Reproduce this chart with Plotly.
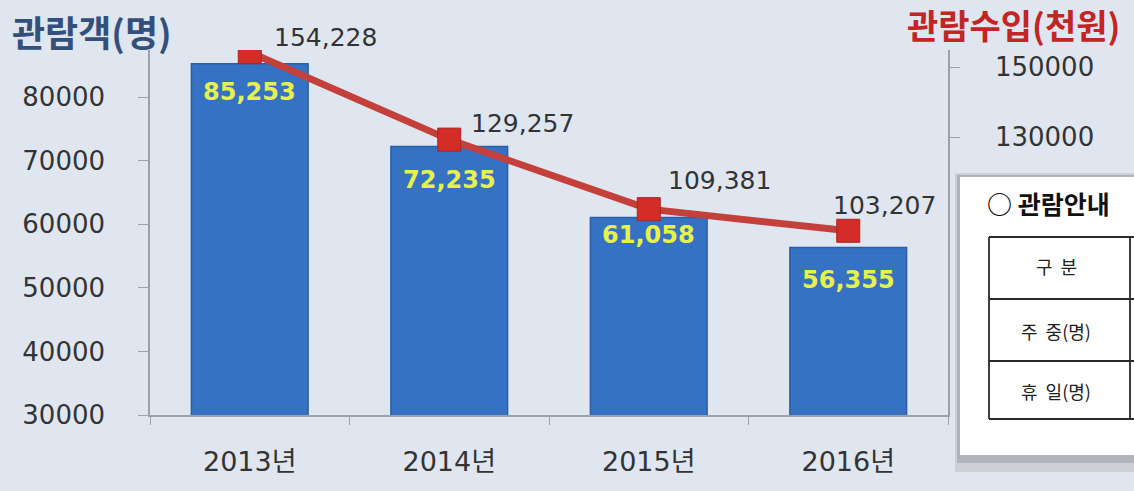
import plotly.graph_objects as go

# ---- data ----
years = ["2013년", "2014년", "2015년", "2016년"]
visitors = [85253, 72235, 61058, 56355]          # 관람객(명)
revenue = [154228, 129257, 109381, 103207]       # 관람수입(천원)
left_ticks = [30000, 40000, 50000, 60000, 70000, 80000]
right_ticks = [130000, 150000]
table_rows = ["구  분", "주  중(명)", "휴  일(명)"]

# ---- geometry helpers (figure pixels -> paper) ----
W, H = 1134, 491
L, R, T, B = 150, 948, 50, 415


def px(x):
    return (x - L) / (R - L)


def py(y):
    return (B - y) / (B - T)


BG = "#dfe6ef"
AX = "#9aa3ad"

fig = go.Figure()
fig.add_trace(go.Bar(
    x=years, y=visitors, yaxis="y", width=0.585,
    marker=dict(color="#3672c4", line=dict(color="#2b5ea6", width=1.5)),
    hoverinfo="skip", showlegend=False,
))
fig.add_trace(go.Scatter(
    x=years, y=revenue, yaxis="y2", mode="lines+markers",
    line=dict(color="#c4403b", width=7),
    marker=dict(symbol="square", size=23, color="#d42d28",
                line=dict(color="#a82420", width=1)),
    hoverinfo="skip", showlegend=False,
))

annotations = []
# bar value labels (yellow, inside bars)
bar_label_drop = [28, 34, 17, 33]
for yr, v, d in zip(years, visitors, bar_label_drop):
    annotations.append(dict(
        x=yr, y=v, xref="x", yref="y", yshift=-d, showarrow=False,
        text=f"{v:,}", yanchor="middle", xanchor="center",
        font=dict(family="DejaVu Sans", size=24, color="#e6f24a", weight="bold"),
    ))
# line value labels
line_label_dx = [22, 20, 17, -17]
line_label_dy = [15, 16, 29, 25]
for yr, v, dx, dy in zip(years, revenue, line_label_dx, line_label_dy):
    annotations.append(dict(
        x=yr, y=v, xref="x", yref="y2", xshift=dx, yshift=dy, showarrow=False,
        text=f"{v:,}", xanchor="left", yanchor="middle",
        font=dict(family="DejaVu Sans", size=25, color="#333333"),
    ))
# axis titles
annotations.append(dict(
    x=px(10), y=py(31), xref="paper", yref="paper", showarrow=False,
    text="관람객(명)", xanchor="left", yanchor="middle",
    font=dict(family="Noto Sans CJK KR", size=36, color="#34507a", weight="bold"),
))
annotations.append(dict(
    x=px(1122), y=py(25), xref="paper", yref="paper", showarrow=False,
    text="관람수입(천원)", xanchor="right", yanchor="middle",
    font=dict(family="Noto Sans CJK KR", size=34, color="#c42424", weight="bold"),
))

shapes = []
# overlaid info table: soft shadow + white card
shapes.append(dict(type="rect", xref="paper", yref="paper", layer="above",
                   x0=px(955), x1=px(1140), y0=py(173), y1=py(472),
                   fillcolor="#cdd1d7", line=dict(width=0)))
shapes.append(dict(type="rect", xref="paper", yref="paper", layer="above",
                   x0=px(957), x1=px(1140), y0=py(175), y1=py(463),
                   fillcolor="#b0b4ba", line=dict(width=0)))
shapes.append(dict(type="rect", xref="paper", yref="paper", layer="above",
                   x0=px(960), x1=px(1140), y0=py(177), y1=py(455),
                   fillcolor="#ffffff", line=dict(width=0)))
row_lines = [237, 299, 361, 419]
for yl in row_lines:
    shapes.append(dict(type="line", xref="paper", yref="paper", layer="above",
                       x0=px(989), x1=px(1140), y0=py(yl), y1=py(yl),
                       line=dict(color="#2a2a2a", width=1.8)))
for xl in [989, 1130]:
    shapes.append(dict(type="line", xref="paper", yref="paper", layer="above",
                       x0=px(xl), x1=px(xl), y0=py(237), y1=py(419),
                       line=dict(color="#2a2a2a", width=1.8)))

annotations.append(dict(
    x=px(985), y=py(203), xref="paper", yref="paper", showarrow=False,
    text="○ 관람안내", xanchor="left", yanchor="middle",
    font=dict(family="Noto Sans CJK KR", size=25, color="#111111", weight="bold"),
))
row_centers = [266, 331, 391]
for txt, yc in zip(table_rows, row_centers):
    annotations.append(dict(
        x=px(1056), y=py(yc), xref="paper", yref="paper", showarrow=False,
        text=txt, xanchor="center", yanchor="middle",
        font=dict(family="Noto Sans CJK KR", size=18, color="#222222"),
    ))

fig.update_layout(
    width=W, height=H,
    margin=dict(l=L, r=W - R, t=T, b=H - B, pad=0, autoexpand=False),
    paper_bgcolor=BG, plot_bgcolor=BG,
    xaxis=dict(
        type="category", showline=True, linecolor=AX, linewidth=1.5,
        ticks="outside", tickson="boundaries", ticklen=8, tickcolor=AX,
        tickfont=dict(family="DejaVu Sans, Noto Sans CJK KR", size=27, color="#333333"),
        ticklabelstandoff=22, showgrid=False, automargin=False,
    ),
    yaxis=dict(
        range=[30000, 87400], tickvals=left_ticks, tickformat="d",
        showline=True, linecolor=AX,
        linewidth=1.5, ticks="outside", ticklen=10, tickcolor=AX, showgrid=False,
        zeroline=False, ticklabelstandoff=28, automargin=False,
        tickfont=dict(family="DejaVu Sans", size=26, color="#333333"),
    ),
    yaxis2=dict(
        range=[50570, 154860], tickvals=right_ticks, tickformat="d",
        overlaying="y", side="right",
        showline=True, linecolor=AX, linewidth=1.5, ticks="outside", ticklen=10,
        tickcolor=AX, showgrid=False, zeroline=False, ticklabelstandoff=30,
        automargin=False,
        tickfont=dict(family="DejaVu Sans", size=26, color="#333333"),
    ),
    annotations=annotations,
    shapes=shapes,
)

fig.write_html(
    "out.html",
    config={"displayModeBar": False},
    post_script="document.body.style.margin='0';document.body.style.background='%s';" % BG,
)
